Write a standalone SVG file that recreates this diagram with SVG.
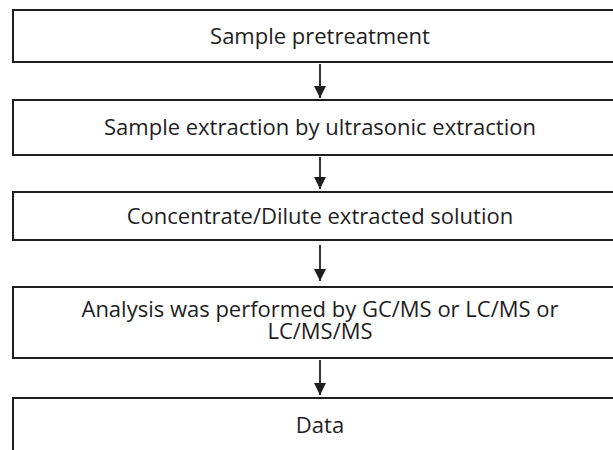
<svg xmlns="http://www.w3.org/2000/svg" width="613" height="450" viewBox="0 0 613 450">
  <style>
    .box { fill: #ffffff; stroke: #1e1e1e; stroke-width: 2; }
    .lbl { font-family: "Open Sans", "Noto Sans", sans-serif; font-size: 22px; fill: #1e1e1e; text-anchor: middle; }
    .conn { stroke: #1e1e1e; stroke-width: 1.8; fill: none; }
  </style>
  <defs>
    <marker id="ah" viewBox="0 0 10 10" refX="10" refY="5" markerWidth="13" markerHeight="12" markerUnits="userSpaceOnUse" orient="auto">
      <path d="M0,0 L10,5 L0,10 Z" fill="#1e1e1e"/>
    </marker>
  </defs>
  <rect width="613" height="450" fill="#ffffff"/>
  <g id="connectors">
    <line class="conn" x1="320" y1="64" x2="320" y2="98" marker-end="url(#ah)"/>
    <line class="conn" x1="320" y1="157" x2="320" y2="189" marker-end="url(#ah)"/>
    <line class="conn" x1="320" y1="245" x2="320" y2="281" marker-end="url(#ah)"/>
    <line class="conn" x1="320" y1="360" x2="320" y2="395" marker-end="url(#ah)"/>
  </g>
  <g id="node1">
    <rect class="box" x="13" y="10" width="620" height="52"/>
    <text class="lbl" x="320" y="44">Sample pretreatment</text>
  </g>
  <g id="node2">
    <rect class="box" x="13" y="100" width="620" height="55"/>
    <text class="lbl" x="320" y="135">Sample extraction by ultrasonic extraction</text>
  </g>
  <g id="node3">
    <rect class="box" x="13" y="192" width="620" height="48"/>
    <text class="lbl" x="320" y="224">Concentrate/Dilute extracted solution</text>
  </g>
  <g id="node4">
    <rect class="box" x="13" y="287" width="620" height="71"/>
    <text class="lbl" x="320" y="317">Analysis was performed by GC/MS or LC/MS or</text>
    <text class="lbl" x="320" y="339">LC/MS/MS</text>
  </g>
  <g id="node5">
    <rect class="box" x="13" y="398" width="620" height="80"/>
    <text class="lbl" x="320" y="433">Data</text>
  </g>
</svg>
